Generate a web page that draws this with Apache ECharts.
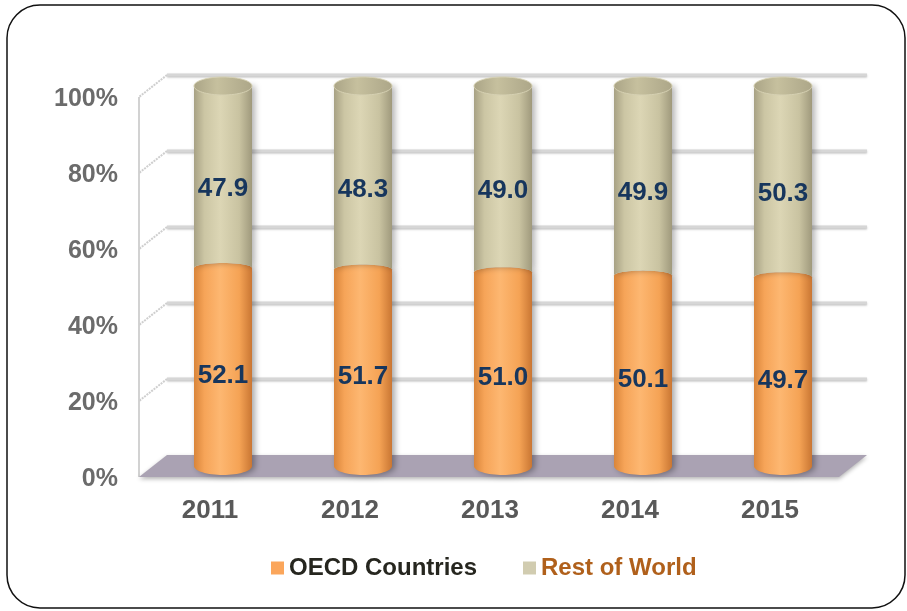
<!DOCTYPE html>
<html>
<head>
<meta charset="utf-8">
<script src="https://cdn.jsdelivr.net/npm/echarts@6/dist/echarts.min.js"></script>
<style>
  html, body { margin: 0; padding: 0; background: #ffffff; }
  #chart { width: 907px; height: 611px; }
</style>
</head>
<body>
<div id="chart"></div>
<script>
// Share of total, by year (percent)
const years = ['2011', '2012', '2013', '2014', '2015'];
const oecdShare = [52.1, 51.7, 51.0, 50.1, 49.7];
const restShare = [47.9, 48.3, 49.0, 49.9, 50.3];
const yTicks = [0, 20, 40, 60, 80, 100];

const FONT = '"Liberation Sans", Arial, sans-serif';
const DEPTH_X = 14;   // half depth of the 3D box, horizontal
const DEPTH_Y = 11;   // half depth of the 3D box, vertical
const RX = 29;        // cylinder radius
const RY = 9;         // ellipse half-height for cylinder caps
const RY_JOIN = 5;    // curvature of the joint between the two segments

function hGrad(stops) {
  return { type: 'linear', x: 0, y: 0, x2: 1, y2: 0,
    colorStops: stops.map(s => ({ offset: s[0], color: s[1] })) };
}
const orangeFill = hGrad([[0, '#d9853a'], [0.18, '#f6a458'], [0.45, '#fdb771'], [0.78, '#f5a355'], [1, '#c97633']]);
const tanFill = hGrad([[0, '#a7a184'], [0.18, '#ccc6a4'], [0.45, '#dcd6b5'], [0.78, '#c9c3a1'], [1, '#9f997c']]);
const capFill = hGrad([[0, '#aaa486'], [0.4, '#c6c09e'], [1, '#aca688']]);

function arc(cx, cy, rx, ry, t0, t1, n) {
  const pts = [];
  for (let k = 0; k <= n; k++) {
    const t = t0 + (t1 - t0) * k / n;
    pts.push([cx + rx * Math.cos(t), cy + ry * Math.sin(t)]);
  }
  return pts;
}

function valueLabel(text, x, y) {
  return {
    type: 'text', z2: 10,
    style: { text: text, x: x, y: y, align: 'center', verticalAlign: 'middle',
      fontFamily: FONT, fontSize: 26, fontWeight: 'bold', fill: '#17365d' }
  };
}

// 3D box: back wall grid lines, left wall diagonals, floor
function renderFrame(params, api) {
  const cs = params.coordSys;
  const v = api.value(1);
  const y = api.coord([0, v])[1];
  const xl = cs.x, xr = cs.x + cs.width;
  const children = [];
  const gridStyle = { stroke: '#d6d6d6', lineWidth: 3, shadowColor: 'rgba(0,0,0,0.25)', shadowBlur: 2, shadowOffsetY: 1 };
  if (v === 0) {
    const yTop = api.coord([0, 100])[1];
    children.push({ type: 'line', shape: { x1: xl - DEPTH_X, y1: y + DEPTH_Y, x2: xl - DEPTH_X, y2: yTop + DEPTH_Y },
      style: { stroke: '#d2d2d2', lineWidth: 2 } });
    children.push({ type: 'polygon',
      shape: { points: [[xl - DEPTH_X, y + DEPTH_Y], [xl + DEPTH_X, y - DEPTH_Y], [xr + DEPTH_X, y - DEPTH_Y], [xr - DEPTH_X, y + DEPTH_Y]] },
      style: { fill: '#aaa2b3', shadowColor: 'rgba(0,0,0,0.3)', shadowBlur: 4, shadowOffsetY: 2 } });
  } else {
    children.push({ type: 'line', shape: { x1: xl + DEPTH_X, y1: y - DEPTH_Y, x2: xr + DEPTH_X, y2: y - DEPTH_Y }, style: gridStyle });
    children.push({ type: 'line', shape: { x1: xl + DEPTH_X, y1: y - DEPTH_Y, x2: xl - DEPTH_X, y2: y + DEPTH_Y },
      style: { stroke: '#cfcfcf', lineWidth: 2, lineDash: [2, 1] } });
  }
  return { type: 'group', children: children };
}

// Lower segment of each cylinder
function renderLower(params, api) {
  const i = api.value(0);
  const base = api.coord([i, 0]);
  const cx = base[0], y0 = base[1];
  const y1 = api.coord([i, api.value(1)])[1];
  const pts = arc(cx, y1, RX, RY_JOIN, Math.PI, 2 * Math.PI, 24)
    .concat(arc(cx, y0, RX, RY, 0, Math.PI, 32));
  return { type: 'group', children: [
    { type: 'polygon', shape: { points: pts },
      style: { fill: orangeFill, shadowColor: 'rgba(0,0,0,0.35)', shadowBlur: 6, shadowOffsetX: 3, shadowOffsetY: 1 } },
    valueLabel(api.value(1).toFixed(1), cx, (y0 + y1) / 2 + 9)
  ] };
}

// Upper segment of each cylinder, with its cap
function renderUpper(params, api) {
  const i = api.value(0);
  const cx = api.coord([i, 0])[0];
  const lo = api.value(1), hi = api.value(1) + api.value(2);
  const y1 = api.coord([i, lo])[1];
  const y2 = api.coord([i, hi])[1];
  const pts = [[cx - RX, y2], [cx + RX, y2]]
    .concat(arc(cx, y1, RX, RY_JOIN, 2 * Math.PI, Math.PI, 24));
  return { type: 'group', children: [
    { type: 'polygon', shape: { points: pts },
      style: { fill: tanFill, shadowColor: 'rgba(0,0,0,0.3)', shadowBlur: 6, shadowOffsetX: 3, shadowOffsetY: 0 } },
    { type: 'ellipse', shape: { cx: cx, cy: y2, rx: RX, ry: RY },
      style: { fill: capFill, stroke: '#d6d1b3', lineWidth: 1 } },
    valueLabel(api.value(2).toFixed(1), cx, (y1 + y2) / 2 + 12)
  ] };
}

const chart = echarts.init(document.getElementById('chart'), null, { renderer: 'canvas' });
chart.setOption({
  backgroundColor: '#ffffff',
  animation: false,
  graphic: [{
    type: 'rect', z: -1, silent: true,
    shape: { x: 7, y: 5, width: 898, height: 603, r: 33 },
    style: { fill: 'none', stroke: '#111111', lineWidth: 1.5 }
  }],
  grid: { left: 153, right: 54, top: 86, bottom: 145, containLabel: false },
  xAxis: {
    type: 'category', data: years,
    axisLine: { show: false }, axisTick: { show: false }, splitLine: { show: false },
    axisLabel: { margin: 32, padding: [0, 26, 0, 0], fontFamily: FONT, fontSize: 26, fontWeight: 'bold', color: '#595959' }
  },
  yAxis: {
    type: 'value', min: 0, max: 100, interval: 20,
    axisLine: { show: false }, axisTick: { show: false }, splitLine: { show: false },
    axisLabel: { formatter: '{value}%', margin: 35, verticalAlign: 'top', lineHeight: 26,
      fontFamily: FONT, fontSize: 25, fontWeight: 'bold', color: '#6b6b6b' }
  },
  legend: {
    left: 266, top: 551, itemWidth: 13, itemHeight: 13, itemGap: 46, icon: 'rect',
    textStyle: { fontFamily: FONT, fontSize: 24, fontWeight: 'bold' },
    data: [
      { name: 'OECD Countries', textStyle: { color: '#26261f' } },
      { name: 'Rest of World', textStyle: { color: '#b0601b' } }
    ]
  },
  series: [
    { type: 'custom', name: 'frame', z: 1, silent: true, renderItem: renderFrame,
      encode: { x: 0, y: 1 }, data: yTicks.map(v => [0, v]) },
    { type: 'custom', name: 'OECD Countries', z: 2, renderItem: renderLower,
      itemStyle: { color: '#fba65b' },
      encode: { x: 0, y: 1 }, data: years.map((y, i) => [i, oecdShare[i]]) },
    { type: 'custom', name: 'Rest of World', z: 3, renderItem: renderUpper,
      itemStyle: { color: '#d1ccb0' },
      encode: { x: 0, y: 1 }, data: years.map((y, i) => [i, oecdShare[i], restShare[i]]) }
  ]
});
</script>
</body>
</html>
